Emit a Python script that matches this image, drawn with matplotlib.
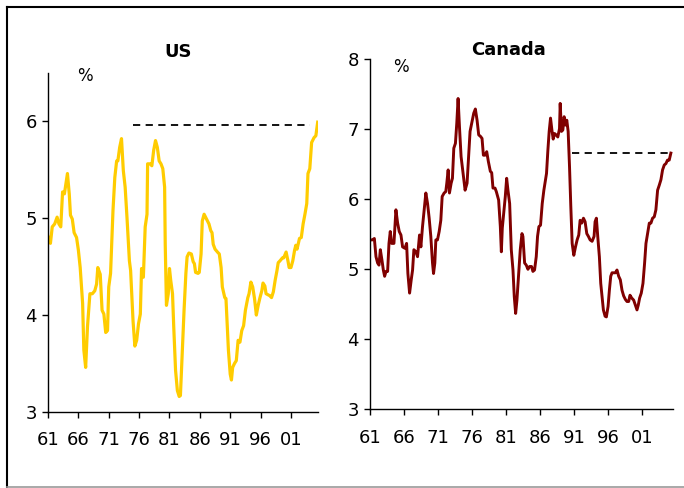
import matplotlib
matplotlib.use("Agg")
import matplotlib.pyplot as plt
from matplotlib.lines import Line2D

# US series (year, %)
US_YEARS = [1961.1, 1961.4, 1961.7, 1962.1, 1962.5, 1962.8, 1963.1, 1963.4, 1963.7, 1964.2,
            1964.5, 1964.7, 1965.0, 1965.3, 1965.7, 1966.0, 1966.3, 1966.7, 1966.9, 1967.2,
            1967.5, 1967.9, 1968.3, 1968.7, 1969.0, 1969.2, 1969.6, 1969.9, 1970.2, 1970.5,
            1970.8, 1971.0, 1971.3, 1971.7, 1972.0, 1972.3, 1972.5, 1972.8, 1973.1, 1973.4,
            1973.7, 1974.0, 1974.4, 1974.6, 1975.0, 1975.3, 1975.6, 1975.9, 1976.2, 1976.4,
            1976.7, 1977.0, 1977.3, 1977.4, 1977.8, 1978.1, 1978.4, 1978.7, 1979.0, 1979.3,
            1979.6, 1979.9, 1980.2, 1980.3, 1980.5, 1980.8, 1981.0, 1981.2, 1981.5, 1981.7,
            1982.0, 1982.3, 1982.6, 1982.8, 1983.1, 1983.4, 1983.7, 1983.9, 1984.2, 1984.6,
            1984.9, 1985.1, 1985.3, 1985.7, 1985.9, 1986.2, 1986.4, 1986.7, 1987.1, 1987.5,
            1987.8, 1988.0, 1988.2, 1988.5, 1988.9, 1989.2, 1989.5, 1989.7, 1990.1, 1990.3,
            1990.5, 1990.7, 1991.0, 1991.2, 1991.4, 1991.7, 1992.0, 1992.3, 1992.6, 1992.9,
            1993.2, 1993.5, 1993.9, 1994.1, 1994.4, 1994.7, 1995.0, 1995.3, 1995.6, 1995.9,
            1996.2, 1996.4, 1996.7, 1996.9, 1997.2, 1997.5, 1997.8, 1998.1, 1998.4, 1998.7,
            1998.9, 1999.2, 1999.6, 1999.8, 2000.2, 2000.5, 2000.7, 2001.0, 2001.3, 2001.6,
            2001.8, 2002.0, 2002.4, 2002.7, 2003.0, 2003.3, 2003.6, 2003.8, 2004.1, 2004.4,
            2004.8, 2005.1, 2005.4]
US_VALUES = [4.80, 4.74, 4.91, 4.94, 5.01, 4.94, 4.91, 5.27, 5.25, 5.46,
             5.25, 5.03, 4.99, 4.85, 4.80, 4.67, 4.49, 4.12, 3.64, 3.46,
             3.88, 4.22, 4.22, 4.25, 4.32, 4.49, 4.42, 4.05, 4.01, 3.82,
             3.84, 4.29, 4.43, 5.08, 5.42, 5.59, 5.59, 5.73, 5.82, 5.49,
             5.32, 5.01, 4.56, 4.46, 3.94, 3.68, 3.74, 3.91, 4.01, 4.48,
             4.39, 4.91, 5.04, 5.56, 5.56, 5.54, 5.70, 5.80, 5.73, 5.59,
             5.56, 5.51, 5.32, 4.73, 4.10, 4.22, 4.48, 4.36, 4.22, 3.88,
             3.43, 3.22, 3.16, 3.17, 3.60, 4.05, 4.43, 4.60, 4.64, 4.63,
             4.55, 4.53, 4.44, 4.43, 4.44, 4.63, 4.97, 5.04, 4.99, 4.94,
             4.87, 4.85, 4.73, 4.68, 4.65, 4.63, 4.49, 4.29, 4.18, 4.17,
             3.91, 3.64, 3.39, 3.33, 3.46, 3.50, 3.53, 3.74, 3.72, 3.84,
             3.89, 4.05, 4.18, 4.22, 4.34, 4.29, 4.17, 4.00, 4.10, 4.18,
             4.25, 4.33, 4.30, 4.22, 4.21, 4.20, 4.18, 4.24, 4.36, 4.46,
             4.54, 4.56, 4.59, 4.59, 4.65, 4.56, 4.49, 4.49, 4.56, 4.67,
             4.72, 4.68, 4.79, 4.80, 4.94, 5.04, 5.15, 5.46, 5.51, 5.78,
             5.83, 5.85, 5.99]

# Canada series (year, %)
CA_YEARS = [1961.00, 1961.34, 1961.64, 1961.88, 1962.12, 1962.32, 1962.52, 1962.76, 1962.96, 1963.15,
            1963.35, 1963.59, 1963.79, 1963.98, 1964.18, 1964.52, 1964.81, 1965.06, 1965.30, 1965.55,
            1965.79, 1966.13, 1966.38, 1966.57, 1966.82, 1967.06, 1967.26, 1967.45, 1967.74, 1967.99,
            1968.28, 1968.48, 1968.72, 1968.97, 1969.21, 1969.46, 1969.70, 1969.94, 1970.19, 1970.34,
            1970.53, 1970.68, 1970.92, 1971.17, 1971.41, 1971.61, 1971.90, 1972.14, 1972.29, 1972.49,
            1972.68, 1972.93, 1973.12, 1973.32, 1973.56, 1973.76, 1973.95, 1974.15, 1974.39, 1974.69,
            1974.98, 1975.27, 1975.47, 1975.71, 1976.00, 1976.25, 1976.49, 1976.74, 1976.98, 1977.23,
            1977.47, 1977.67, 1977.91, 1978.16, 1978.40, 1978.69, 1978.89, 1979.08, 1979.38, 1979.57,
            1979.91, 1980.16, 1980.31, 1980.45, 1980.70, 1980.89, 1981.09, 1981.28, 1981.53, 1981.77,
            1982.02, 1982.21, 1982.41, 1982.60, 1982.85, 1983.09, 1983.34, 1983.48, 1983.73, 1983.97,
            1984.22, 1984.46, 1984.75, 1984.95, 1985.19, 1985.44, 1985.63, 1985.83, 1986.07, 1986.32,
            1986.56, 1986.81, 1986.95, 1987.15, 1987.34, 1987.54, 1987.74, 1987.93, 1988.13, 1988.37,
            1988.61, 1988.86, 1988.96, 1989.15, 1989.35, 1989.54, 1989.74, 1989.93, 1990.13, 1990.33,
            1990.52, 1990.72, 1990.96, 1991.21, 1991.45, 1991.69, 1991.89, 1992.13, 1992.38, 1992.62,
            1992.87, 1993.11, 1993.36, 1993.65, 1993.94, 1994.09, 1994.28, 1994.48, 1994.72, 1994.92,
            1995.12, 1995.31, 1995.56, 1995.75, 1996.00, 1996.19, 1996.39, 1996.58, 1996.83, 1997.07,
            1997.31, 1997.56, 1997.80, 1998.05, 1998.29, 1998.54, 1998.78, 1999.03, 1999.22, 1999.47,
            1999.76, 2000.00, 2000.25, 2000.44, 2000.64, 2000.88, 2001.13, 2001.37, 2001.57, 2001.81,
            2002.06, 2002.30, 2002.54, 2002.79, 2003.03, 2003.28, 2003.52, 2003.77, 2004.01, 2004.26,
            2004.50, 2004.74, 2004.99, 2005.23]
CA_VALUES = [5.42, 5.42, 5.44, 5.18, 5.09, 5.06, 5.28, 5.13, 4.99, 4.90,
             4.97, 4.97, 5.37, 5.54, 5.37, 5.37, 5.85, 5.66, 5.54, 5.49,
             5.32, 5.30, 5.37, 4.94, 4.66, 4.85, 4.99, 5.28, 5.25, 5.18,
             5.49, 5.32, 5.61, 5.85, 6.09, 5.94, 5.73, 5.47, 5.09, 4.94,
             5.09, 5.42, 5.42, 5.54, 5.70, 6.04, 6.09, 6.11, 6.23, 6.42,
             6.09, 6.23, 6.30, 6.73, 6.80, 7.09, 7.44, 7.04, 6.61, 6.37,
             6.13, 6.23, 6.56, 6.97, 7.11, 7.23, 7.29, 7.13, 6.92, 6.90,
             6.87, 6.63, 6.63, 6.68, 6.54, 6.40, 6.38, 6.16, 6.16, 6.11,
             5.99, 5.61, 5.25, 5.59, 5.85, 6.04, 6.30, 6.13, 5.94, 5.28,
             4.99, 4.61, 4.37, 4.56, 4.94, 5.28, 5.51, 5.47, 5.09, 5.06,
             5.00, 5.04, 5.04, 4.97, 4.99, 5.18, 5.47, 5.61, 5.63, 5.94,
             6.13, 6.28, 6.37, 6.70, 6.97, 7.16, 6.99, 6.86, 6.94, 6.92,
             6.89, 7.01, 7.37, 6.97, 6.99, 7.18, 7.06, 7.13, 6.97, 6.47,
             5.90, 5.37, 5.20, 5.32, 5.42, 5.49, 5.70, 5.66, 5.73, 5.68,
             5.51, 5.47, 5.42, 5.40, 5.47, 5.68, 5.73, 5.47, 5.18, 4.80,
             4.61, 4.42, 4.33, 4.32, 4.47, 4.70, 4.90, 4.95, 4.95, 4.95,
             4.99, 4.90, 4.85, 4.70, 4.62, 4.57, 4.54, 4.54, 4.63, 4.59,
             4.56, 4.49, 4.42, 4.49, 4.59, 4.66, 4.80, 5.09, 5.37, 5.51,
             5.66, 5.66, 5.73, 5.75, 5.85, 6.13, 6.20, 6.28, 6.42, 6.49,
             6.51, 6.56, 6.56, 6.66]

# Dashed reference lines: (start year, end year, level)
US_REF = (1975.0, 2004.1, 5.96)
CA_REF = (1990.7, 2005.5, 6.66)

TICK_YEARS = [1961, 1966, 1971, 1976, 1981, 1986, 1991, 1996, 2001]
TICK_LABELS = ["61", "66", "71", "76", "81", "86", "91", "96", "01"]

plt.rcParams["font.family"] = ["DejaVu Sans"]

W, H = 684, 488
fig = plt.figure(figsize=(W / 100, H / 100), dpi=100)


def px_box(left, top, right, bottom):
    return [left / W, 1 - bottom / H, (right - left) / W, (bottom - top) / H]


def style_axes(ax, fs):
    for side in ["top", "right"]:
        ax.spines[side].set_visible(False)
    for side in ["left", "bottom"]:
        ax.spines[side].set_linewidth(1.0)
        ax.spines[side].set_color("black")
    ax.set_xlim(1961, 2005.5)
    ax.set_xticks(TICK_YEARS)
    ax.set_xticklabels(TICK_LABELS)
    ax.tick_params(axis="both", direction="out", length=4, width=1, labelsize=fs, colors="black")
    ax.tick_params(axis="x", pad=10)
    ax.tick_params(axis="y", pad=4)


# US panel
ax_us = fig.add_axes(px_box(48, 72.7, 318.3, 412))
ax_us.plot(US_YEARS, US_VALUES, color="#FFCC00", lw=2.3, solid_joinstyle="round")
ax_us.plot([US_REF[0], US_REF[1]], [US_REF[2], US_REF[2]], color="black", lw=1.3, ls=(0, (4, 3)))
ax_us.set_ylim(3, 6.5)
ax_us.set_yticks([3, 4, 5, 6])
style_axes(ax_us, 13)

# Canada panel
ax_ca = fig.add_axes(px_box(370, 59.3, 672.7, 409.3))
ax_ca.plot(CA_YEARS, CA_VALUES, color="#800000", lw=2.1, solid_joinstyle="round")
ax_ca.plot([CA_REF[0], CA_REF[1]], [CA_REF[2], CA_REF[2]], color="black", lw=1.3, ls=(0, (4, 3)))
ax_ca.set_ylim(3, 8)
ax_ca.set_yticks([3, 4, 5, 6, 7, 8])
style_axes(ax_ca, 13)

# titles and unit labels
fig.text(178 / W, 1 - 52 / H, "US", ha="center", va="center", fontsize=13, fontweight="bold")
fig.text(509 / W, 1 - 50 / H, "Canada", ha="center", va="center", fontsize=13, fontweight="bold")
fig.text(85 / W, 1 - 76 / H, "%", ha="center", va="center", fontsize=12)
fig.text(401 / W, 1 - 67 / H, "%", ha="center", va="center", fontsize=12)

# outer frame
fig.add_artist(Line2D([7 / W, 1.0], [1 - 7 / H, 1 - 7 / H], color="black", lw=1.5, transform=fig.transFigure))
fig.add_artist(Line2D([7 / W, 7 / W], [1 - 7 / H, 1 - 487 / H], color="black", lw=1.5, transform=fig.transFigure))
fig.add_artist(Line2D([7 / W, 1.0], [1 - 486.5 / H, 1 - 486.5 / H], color="#999999", lw=1.2, transform=fig.transFigure))

fig.savefig("out.png", dpi=100)
